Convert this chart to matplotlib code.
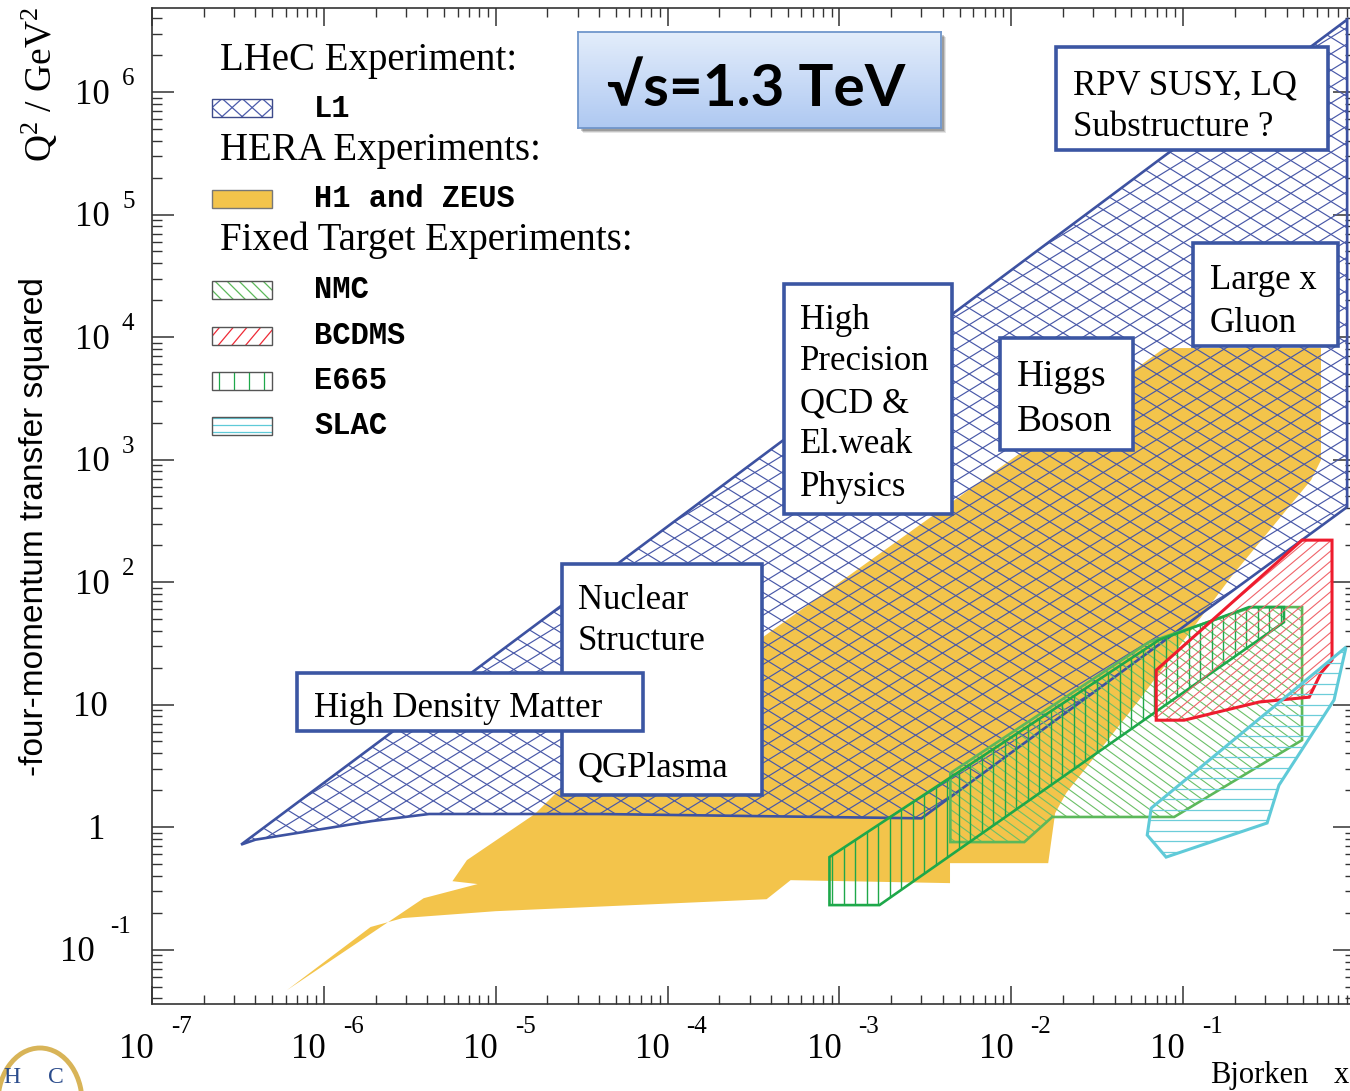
import numpy as np
import matplotlib
matplotlib.use('Agg')
import matplotlib.pyplot as plt
from matplotlib.patches import Polygon, Rectangle, Arc
from matplotlib.collections import LineCollection
from matplotlib.colors import LinearSegmentedColormap
from matplotlib.ticker import LogLocator, NullFormatter
from matplotlib.transforms import blended_transform_factory, offset_copy, IdentityTransform

# ---- kinematic regions: corners in (x, Q2) ----
l1_x = [3.3e-7, 0.90, 0.90, 3.0e-3, 4.0e-5, 4.1e-6, 1.9e-6, 4.0e-7]
l1_q2 = [0.72, 3.9e6, 410, 1.18, 1.28, 1.28, 1.12, 0.79]

hera_x = [6.1e-7, 1.87e-6, 2.88e-6, 1.0e-5, 3.77e-4, 5.2e-4, 4.4e-3, 4.4e-3,
          0.0164, 0.018, 0.0209, 0.0555, 0.19, 0.555, 0.634, 0.634, 0.0776,
          9.9e-3, 3.4e-4, 3.5e-5, 1.69e-5, 6.8e-6, 5.6e-6, 7.85e-6, 3.81e-6]
hera_q2 = [0.0467, 0.153, 0.181, 0.206, 0.258, 0.369, 0.349, 0.508,
           0.508, 1.30, 1.90, 10.9, 110, 680, 990, 8130, 8130,
           990, 33.7, 3.52, 1.28, 0.538, 0.362, 0.343, 0.263]

nmc_x = [4.42e-3, 0.0634, 0.252, 0.492, 0.492, 0.0887, 0.0173, 0.0119, 4.42e-3]
nmc_q2 = [2.76, 32.4, 62.5, 62.5, 5.13, 1.21, 1.21, 0.755, 0.755]

e665_x = [8.75e-4, 8.75e-4, 1.71e-3, 0.386, 0.386, 0.242, 0.0724]
e665_q2 = [0.569, 0.231, 0.231, 47.1, 62.5, 62.5, 33.7]

bcdms_x = [0.0697, 0.0697, 0.1014, 0.277, 0.541, 0.634, 0.735, 0.735, 0.492]
bcdms_q2 = [19.1, 7.46, 7.46, 10.5, 11.5, 18.1, 23.1, 220, 220]

slac_x = [0.887, 0.755, 0.361, 0.308, 0.0796, 0.0618, 0.0652]
slac_q2 = [29.5, 10.9, 2.2, 1.08, 0.569, 0.861, 1.43]

x_decades = [-7, -6, -5, -4, -3, -2, -1]
y_decades = [-1, 0, 1, 2, 3, 4, 5, 6]

SERIF = ['Liberation Serif', 'DejaVu Serif']
MONO = ['Liberation Mono', 'DejaVu Sans Mono']
SANS = ['Liberation Sans', 'DejaVu Sans']

plt.rcParams['mathtext.fontset'] = 'custom'
plt.rcParams['mathtext.rm'] = 'Liberation Serif'
plt.rcParams['mathtext.it'] = 'Liberation Serif:italic'

W, H = 1350, 1091
AX_L, AX_R, AX_T, AX_B = 152, 1355, 8, 1004
AX_W, AX_H = AX_R - AX_L, AX_B - AX_T

BLUE = '#3d52a1'
BOX = '#3b56a3'
YELLOW = '#f3c44b'


def fx(px):
    return px / W


def fy(py):
    return 1 - py / H


def axx(px):
    return (px - AX_L) / AX_W


def axy(py):
    return (AX_B - py) / AX_H


fig = plt.figure(figsize=(W / 100, H / 100), dpi=100)
ax = fig.add_axes([fx(AX_L), fy(AX_B), AX_W / W, AX_H / H])
ax.set_xscale('log')
ax.set_yscale('log')
ax.set_xlim(1e-7, 1)
ax.set_ylim(0.036, 4.85e6)


def hatch(patch, angle, gap, color, lw, shift=0.0):
    """Parallel lines (screen-space angle / pixel gap) clipped to a patch."""
    t = np.deg2rad(angle)
    d = np.array([np.cos(t), np.sin(t)])
    n = np.array([-np.sin(t), np.cos(t)])
    L = np.hypot(AX_W, AX_H) + 50
    segs = []
    for c in np.arange(-L, L, gap) + shift:
        p0 = c * n - L * d
        p1 = c * n + L * d
        segs.append([(p0[0] / AX_W, p0[1] / AX_H), (p1[0] / AX_W, p1[1] / AX_H)])
    lc = LineCollection(segs, colors=color, linewidths=lw, transform=ax.transAxes,
                        zorder=patch.get_zorder() - 0.1)
    ax.add_collection(lc, autolim=False)
    # clip after adding, otherwise the axes frame replaces it
    lc.set_clip_path(patch.get_path(), patch.get_transform())


def region(xs, qs, edge, lw, hatches, z):
    poly = Polygon(np.column_stack([xs, qs]), closed=True, fill=False,
                   edgecolor=edge, linewidth=lw, joinstyle='miter', zorder=z + 0.5)
    ax.add_patch(poly)
    for ang, gap, col, hlw in hatches:
        hatch(poly, ang, gap, col, hlw)
    return poly


# HERA: solid fill
ax.add_patch(Polygon(np.column_stack([hera_x, hera_q2]), closed=True,
                     facecolor=YELLOW, edgecolor='none', zorder=1))

# LHeC L1: diamond cross-hatch
region(l1_x, l1_q2, BLUE, 1.9,
       [(31.5, 14.0, '#4858a8', 0.85), (-31.5, 14.0, '#4858a8', 0.85)], 2)
region(nmc_x, nmc_q2, '#5cb85a', 1.9, [(-36, 7.8, '#6cc068', 0.8)], 3)
region(e665_x, e665_q2, '#1ea84a', 1.9, [(90, 11.5, '#1ea84a', 1.0)], 4)
region(bcdms_x, bcdms_q2, '#ee1c2e', 2.2, [(40, 7.8, '#f0646a', 0.8)], 5)
region(slac_x, slac_q2, '#5fcad8', 2.2, [(0, 10.5, '#6ccdd9', 0.9)], 6)

# axes frame and ticks
for s in ax.spines.values():
    s.set_color('#333333')
    s.set_linewidth(1.2)
ax.xaxis.set_major_locator(LogLocator(base=10, numticks=20))
ax.yaxis.set_major_locator(LogLocator(base=10, numticks=20))
ax.xaxis.set_minor_locator(LogLocator(base=10, subs=np.arange(2, 10), numticks=100))
ax.yaxis.set_minor_locator(LogLocator(base=10, subs=np.arange(2, 10), numticks=100))
ax.xaxis.set_minor_formatter(NullFormatter())
ax.yaxis.set_minor_formatter(NullFormatter())
ax.tick_params(which='both', direction='in', top=True, right=True,
               labelbottom=False, labelleft=False, colors='#333333')
ax.tick_params(axis='x', which='major', length=13, width=1.1)
ax.tick_params(axis='x', which='minor', length=6.5, width=1.0)
ax.tick_params(axis='y', which='major', length=16, width=1.1)
ax.tick_params(axis='y', which='minor', length=7, width=1.0)


def off(tr, dx, dy):
    return offset_copy(tr, fig=fig, x=dx, y=dy, units='dots')


# tick labels, ROOT style "10  ^k"
tr_x = blended_transform_factory(ax.transData, ax.transAxes)
for k in x_decades:
    ax.text(10.0 ** k, 0, '10', transform=off(tr_x, 2, -54.5), ha='right',
            va='baseline', fontsize=25, family=SERIF, clip_on=False)
    ax.text(10.0 ** k, 0, str(k), transform=off(tr_x, 19, -29), ha='left',
            va='baseline', fontsize=18, family=SERIF, clip_on=False)

tr_y = blended_transform_factory(ax.transAxes, ax.transData)
for k in y_decades:
    if k == 0:
        ax.text(0, 1, '1', transform=off(tr_y, -47, -11.5), ha='right',
                va='baseline', fontsize=25, family=SERIF, clip_on=False)
    elif k == 1:
        ax.text(0, 10, '10', transform=off(tr_y, -44, -11.5), ha='right',
                va='baseline', fontsize=25, family=SERIF, clip_on=False)
    elif k < 0:
        ax.text(0, 10.0 ** k, '10', transform=off(tr_y, -57, -11.5), ha='right',
                va='baseline', fontsize=25, family=SERIF, clip_on=False)
        ax.text(0, 10.0 ** k, str(k), transform=off(tr_y, -42, 17), ha='left',
                va='baseline', fontsize=18, family=SERIF, clip_on=False)
    else:
        ax.text(0, 10.0 ** k, '10', transform=off(tr_y, -42, -11.5), ha='right',
                va='baseline', fontsize=25, family=SERIF, clip_on=False)
        ax.text(0, 10.0 ** k, str(k), transform=off(tr_y, -30, 7), ha='left',
                va='baseline', fontsize=18, family=SERIF, clip_on=False)

# axis titles
fig.text(fx(35), fy(527), '-four-momentum transfer squared', rotation=90,
         ha='center', va='center', fontsize=24, family=SANS)
fig.text(fx(40), fy(84), r'Q$^2$ / GeV$^2$', rotation=90, ha='center',
         va='center', fontsize=27, family=SERIF)
fig.text(fx(1210), fy(1083), 'Bjorken', ha='left', va='baseline', fontsize=22,
         family=SERIF)
fig.text(fx(1334), fy(1083), 'x', ha='left', va='baseline', fontsize=22,
         family=SERIF)

# ---- legend ----
for txt, py in [('LHeC Experiment:', 70), ('HERA Experiments:', 160),
                ('Fixed Target Experiments:', 250)]:
    fig.text(fx(220), fy(py), txt, ha='left', va='baseline', fontsize=28,
             family=SERIF)


def swatch(py, face='none', edge='#555555', hatches=()):
    r = Rectangle((axx(212), axy(py + 9)), 60 / AX_W, 18 / AX_H,
                  transform=ax.transAxes, facecolor=face, edgecolor=edge,
                  linewidth=1.0, zorder=8)
    ax.add_patch(r)
    for ang, gap, col, hlw in hatches:
        hatch(r, ang, gap, col, hlw)


swatch(108, edge='#3d4a8a', hatches=[(42, 13.4, '#4b5bab', 0.9), (-42, 13.4, '#4b5bab', 0.9)])
swatch(199, face=YELLOW, edge='#777777')
swatch(290, hatches=[(-45, 8.5, '#5cb85a', 0.9)])
swatch(336, hatches=[(50, 10.5, '#ee2a36', 0.9)])
swatch(381, hatches=[(90, 15, '#1ea84a', 0.9)])
swatch(426, hatches=[(0, 7, '#5fcad8', 0.9)])

for txt, py in [('L1', 109), ('H1 and ZEUS', 199), ('NMC', 290), ('BCDMS', 336),
                ('E665', 381), ('SLAC', 426)]:
    fig.text(fx(314), fy(py + 8), txt, ha='left', va='baseline', fontsize=22,
             fontweight='bold', family=MONO)

# ---- physics annotation boxes ----
def box(x0, y0, x1, y1):
    fig.add_artist(Rectangle((fx(x0), fy(y1)), (x1 - x0) / W, (y1 - y0) / H,
                             transform=fig.transFigure, facecolor='white',
                             edgecolor=BOX, linewidth=2.6, zorder=2))


def lines(x, rows, size=25):
    for txt, base in rows:
        fig.text(fx(x), fy(base), txt, ha='left', va='baseline', fontsize=size,
                 family=SERIF, zorder=3)


box(1056, 47, 1328, 150)
lines(1073, [('RPV SUSY, LQ', 94), ('Substructure ?', 136)])
box(1193, 243, 1338, 346)
lines(1210, [('Large x', 289), ('Gluon', 332)])
box(1000, 338, 1133, 450)
lines(1017, [('Higgs', 386), ('Boson', 431)], size=27)
box(784, 284, 952, 514)
lines(800, [('High', 329), ('Precision', 370), ('QCD &', 412),
            ('El.weak', 453), ('Physics', 496)])
box(562, 564, 762, 795)
lines(578, [('Nuclear', 609), ('Structure', 650), ('QGPlasma', 776)])
box(297, 673, 643, 731)
lines(314, [('High Density Matter', 717)])

# ---- centre-of-mass energy banner ----
for i, a in enumerate([0.10, 0.14, 0.20]):
    d = 5 - i
    fig.add_artist(Rectangle((fx(578 + d), fy(128 + d)), 363 / W, 96 / H,
                             transform=fig.transFigure, facecolor='#000000',
                             edgecolor='none', alpha=a, zorder=4))
gax = fig.add_axes([fx(578), fy(128), 363 / W, 96 / H], zorder=5)
grad = np.linspace(0, 1, 64).reshape(-1, 1)
gax.imshow(grad, aspect='auto', extent=[0, 1, 0, 1], origin='upper',
           cmap=LinearSegmentedColormap.from_list('banner', ['#e3edfb', '#afc9f2']))
gax.set_xticks([])
gax.set_yticks([])
for s in gax.spines.values():
    s.set_color('#7096cb')
    s.set_linewidth(1.3)
fig.text(fx(756), fy(106), '√s=1.3 TeV', ha='center', va='baseline',
         fontsize=42, fontweight='bold', family=['Lato', 'DejaVu Sans'], zorder=10)

# ---- corner logo fragment ----
fig.add_artist(Arc((40, H - 1102), 84, 108, theta1=-10, theta2=190,
                   transform=IdentityTransform(), color='#d8b458', linewidth=3.5))
fig.text(fx(3), fy(1088), 'H', ha='left', va='bottom', fontsize=17,
         family=SERIF, color='#2b4c8c')
fig.text(fx(48), fy(1088), 'C', ha='left', va='bottom', fontsize=17,
         family=SERIF, color='#2b4c8c')

fig.savefig('out.png', dpi=100)
